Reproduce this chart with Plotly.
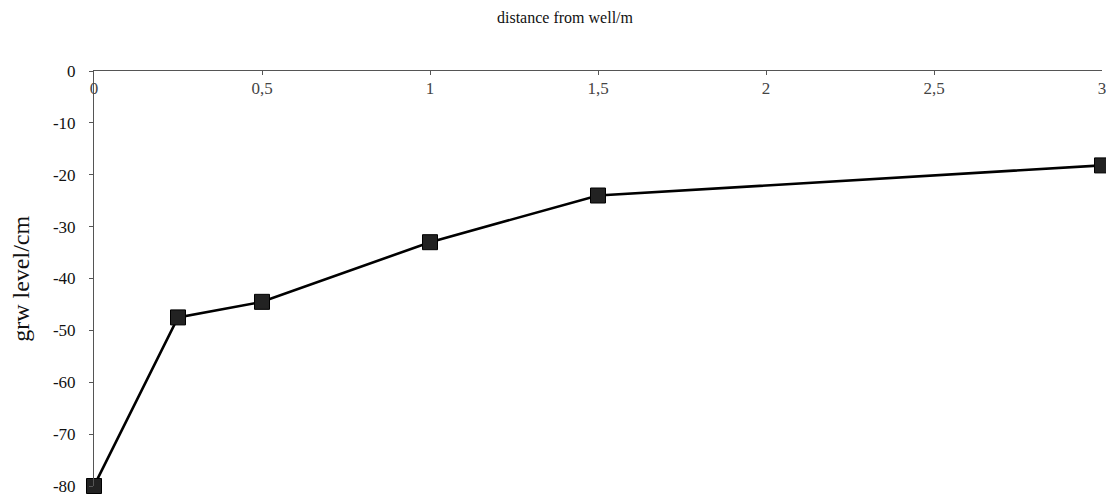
import plotly.graph_objects as go

distance_m = [0, 0.25, 0.5, 1, 1.5, 3]
grw_level_cm = [-80, -47.5, -44.5, -33, -24, -18.2]
x_ticks = [0, 0.5, 1, 1.5, 2, 2.5, 3]
x_tick_labels = ["0", "0,5", "1", "1,5", "2", "2,5", "3"]
y_ticks = [0, -10, -20, -30, -40, -50, -60, -70, -80]
y_tick_labels = ["0", "-10", "-20", "-30", "-40", "-50", "-60", "-70", "-80"]

serif = "Liberation Serif, Times New Roman, serif"

# page body has an 8px margin, so the figure is offset by 8px
off = 8
W, H = 1114 - off, 504 - off
plot_left, plot_right, plot_top, plot_bottom = 94, 1106, 71, 493
left = plot_left - off
right = W + off - plot_right
top = plot_top - off
bottom = H + off - plot_bottom
plot_w = plot_right - plot_left
plot_h = plot_bottom - plot_top

fig = go.Figure()
fig.add_trace(go.Scatter(
    x=distance_m, y=grw_level_cm, mode="lines+markers",
    line=dict(color="#000000", width=2.6),
    marker=dict(symbol="square", size=15, color="#222222",
                line=dict(color="#000000", width=1)),
    cliponaxis=False, showlegend=False,
))

fig.update_layout(
    width=W, height=H,
    margin=dict(l=left, r=right, t=top, b=bottom, pad=0),
    paper_bgcolor="white", plot_bgcolor="white",
    font=dict(family=serif, color="#111111", size=17),
    xaxis=dict(
        range=[0, 3], side="top", showgrid=False, zeroline=False,
        showline=True, linecolor="#555555", linewidth=1,
        ticks="inside", ticklen=4, tickcolor="#555555",
        tickvals=x_ticks, ticktext=x_tick_labels,
        ticklabelposition="inside", ticklabelstandoff=8,
        ticklabeloverflow="allow",
        tickfont=dict(family=serif, size=17),
    ),
    yaxis=dict(
        range=[-80, 0], showgrid=False, zeroline=False,
        showline=True, linecolor="#555555", linewidth=1,
        ticks="outside", ticklen=4, tickcolor="#555555",
        tickvals=y_ticks, ticktext=y_tick_labels,
        ticklabelstandoff=10, ticklabeloverflow="allow",
        tickfont=dict(family=serif, size=17),
    ),
    annotations=[
        dict(text="distance from well/m", xref="paper", yref="paper",
             x=(567 - plot_left) / plot_w, y=1 + (plot_top - 17) / plot_h,
             xanchor="center", yanchor="middle",
             showarrow=False, font=dict(family=serif, size=16)),
        dict(text="grw level/cm", xref="paper", yref="paper",
             x=(20 - plot_left) / plot_w, y=0.5, xanchor="center", yanchor="middle",
             textangle=-90, showarrow=False,
             font=dict(family=serif, size=24)),
    ],
)

fig.write_html("out.html")
